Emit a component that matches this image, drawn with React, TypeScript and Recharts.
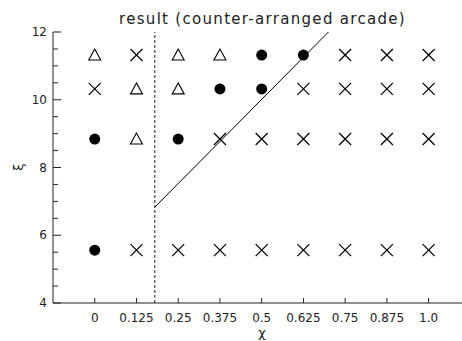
import React from 'react';
import { ScatterChart, Scatter, XAxis, YAxis, ReferenceLine } from 'recharts';

const chiValues = [0, 0.125, 0.25, 0.375, 0.5, 0.625, 0.75, 0.875, 1.0];
const chiLabels = ['0', '0.125', '0.25', '0.375', '0.5', '0.625', '0.75', '0.875', '1.0'];
const xiRows = [11.32, 10.32, 8.84, 5.56];
// marker type per row (top to bottom), per chi column
const row1 = ['tri', 'x', 'tri', 'tri', 'dot', 'dot', 'x', 'x', 'x'];
const row2 = ['x', 'tri', 'tri', 'dot', 'dot', 'x', 'x', 'x', 'x'];
const row3 = ['dot', 'tri', 'dot', 'x', 'x', 'x', 'x', 'x', 'x'];
const row4 = ['dot', 'x', 'x', 'x', 'x', 'x', 'x', 'x', 'x'];
const yTicks = [4, 4.5, 5, 5.5, 6, 6.5, 7, 7.5, 8, 8.5, 9, 9.5, 10, 10.5, 11, 11.5, 12];
const boundaryChi = 0.18;
const lineStart = { x: 0.18, y: 6.83 };
const lineEnd = { x: 0.7, y: 12 };

const rows = [row1, row2, row3, row4];
const pointsOf = (kind: string) => {
  const out: { x: number; y: number }[] = [];
  rows.forEach((r, ri) =>
    r.forEach((k, ci) => {
      if (k === kind) out.push({ x: chiValues[ci], y: xiRows[ri] });
    })
  );
  return out;
};
const triPts = pointsOf('tri');
const crossPts = pointsOf('x');
const dotPts = pointsOf('dot');

const INK = '#222';
const FONT = 'DejaVu Sans, sans-serif';

const CrossShape = (p: any) => (
  <g>
    <line x1={p.cx - 6} y1={p.cy - 6} x2={p.cx + 6} y2={p.cy + 6} stroke="#000" strokeWidth={1.2} />
    <line x1={p.cx - 6} y1={p.cy + 6} x2={p.cx + 6} y2={p.cy - 6} stroke="#000" strokeWidth={1.2} />
  </g>
);
const TriShape = (p: any) => (
  <polygon
    points={`${p.cx},${p.cy - 6} ${p.cx - 6},${p.cy + 5} ${p.cx + 6},${p.cy + 5}`}
    fill="none"
    stroke="#000"
    strokeWidth={1.1}
  />
);
const DotShape = (p: any) => <circle cx={p.cx} cy={p.cy} r={5.5} fill="#000" />;

const BottomTick = (p: any) => {
  const idx = chiValues.indexOf(p.payload.value);
  return (
    <g>
      <line x1={p.x} x2={p.x} y1={p.y} y2={p.y - 5} stroke={INK} />
      <text x={p.x} y={p.y + 19} textAnchor="middle" fontSize={12} fontFamily={FONT} fill={INK}>
        {idx >= 0 ? chiLabels[idx] : p.payload.value}
      </text>
    </g>
  );
};
const TopTick = (p: any) => (
  <line x1={p.x} x2={p.x} y1={p.y} y2={p.y + 5} stroke={INK} />
);
const LeftTick = (p: any) => {
  const v = p.payload.value;
  const major = v % 2 === 0;
  return (
    <g>
      <line x1={p.x} x2={p.x + (major ? 8 : 5)} y1={p.y} y2={p.y} stroke={INK} />
      {major && (
        <text x={p.x - 6} y={p.y + 4} textAnchor="end" fontSize={12} fontFamily={FONT} fill={INK}>
          {v}
        </text>
      )}
    </g>
  );
};

export default function App() {
  return (
    <div style={{ position: 'absolute', left: 0, top: 0, width: 462, height: 341, background: '#fff' }}>
      <ScatterChart width={462} height={341} margin={{ top: 32, right: 0, left: 0, bottom: 0 }}>
        <XAxis
          xAxisId="top"
          orientation="top"
          type="number"
          dataKey="x"
          domain={[-0.125, 1.1]}
          ticks={chiValues}
          interval={0}
          height={0}
          tickSize={0}
          tickMargin={0}
          tickLine={false}
          axisLine={{ stroke: INK }}
          tick={<TopTick />}
          allowDataOverflow
        />
        <XAxis
          type="number"
          dataKey="x"
          domain={[-0.125, 1.1]}
          ticks={chiValues}
          interval={0}
          height={38}
          tickSize={0}
          tickMargin={0}
          tickLine={false}
          axisLine={{ stroke: INK }}
          tick={<BottomTick />}
          allowDataOverflow
        />
        <YAxis
          type="number"
          dataKey="y"
          domain={[4, 12]}
          ticks={yTicks}
          interval={0}
          width={53}
          tickSize={0}
          tickMargin={0}
          tickLine={false}
          axisLine={{ stroke: INK }}
          tick={<LeftTick />}
          allowDataOverflow
        />
        <ReferenceLine x={boundaryChi} stroke={INK} strokeDasharray="3 2" />
        <ReferenceLine segment={[lineStart, lineEnd]} stroke="#000" strokeWidth={1} />
        <Scatter data={triPts} shape={<TriShape />} isAnimationActive={false} />
        <Scatter data={crossPts} shape={<CrossShape />} isAnimationActive={false} />
        <Scatter data={dotPts} shape={<DotShape />} isAnimationActive={false} />
      </ScatterChart>
      <div
        style={{
          position: 'absolute',
          left: 0,
          width: 525,
          top: 10,
          textAlign: 'center',
          fontFamily: FONT,
          fontSize: 15,
          letterSpacing: '1.3px',
          lineHeight: '18px',
          color: INK,
          whiteSpace: 'nowrap',
        }}
      >
        result (counter-arranged arcade)
      </div>
      <div
        style={{
          position: 'absolute',
          left: 252,
          width: 20,
          top: 325,
          textAlign: 'center',
          fontFamily: FONT,
          fontSize: 13,
          lineHeight: '15px',
          color: INK,
        }}
      >
        χ
      </div>
      <div
        style={{
          position: 'absolute',
          left: 9,
          width: 20,
          top: 158,
          textAlign: 'center',
          fontFamily: FONT,
          fontSize: 13,
          color: INK,
          transform: 'rotate(-90deg)',
          lineHeight: '18px',
        }}
      >
        ξ
      </div>
    </div>
  );
}
